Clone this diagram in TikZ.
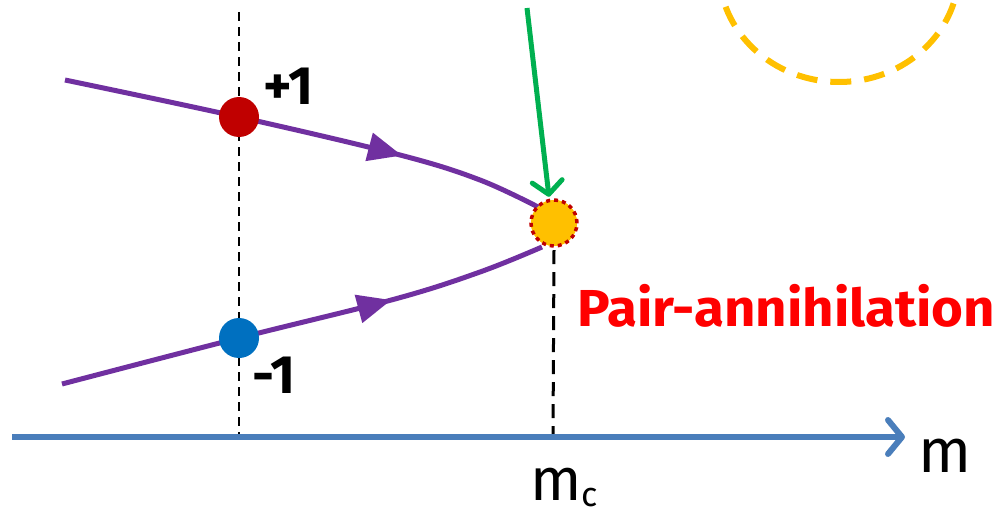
\documentclass[tikz,border=0pt]{standalone}
\usepackage{fontspec}
\setmainfont{Fira Sans}
\usetikzlibrary{arrows.meta,decorations.markings,calc}
\definecolor{axisblue}{HTML}{4A7EBB}
\definecolor{purp}{HTML}{7030A0}
\definecolor{darkred}{HTML}{C00000}
\definecolor{midblue}{HTML}{0070C0}
\definecolor{gold}{HTML}{FFC000}
\definecolor{grn}{HTML}{00B050}
\definecolor{brightred}{HTML}{FF0000}
\tikzset{
  dot/.style={circle, inner sep=0pt, minimum size=#1},
  flow/.style={purp, line width=5pt, postaction={decorate},
    decoration={markings, mark=at position #1 with {\arrow{Triangle[length=34pt,width=28pt]}}}},
  guide/.style={black, line width=2pt, dash pattern=on 9pt off 6pt},
  lbl/.style={font=\fontsize{54}{58}\selectfont\bfseries, inner sep=0pt}
}
\begin{document}
\begin{tikzpicture}[x=1pt,y=-1pt]
\useasboundingbox (0,0) rectangle (1005,519);
\clip (0,0) rectangle (1005,519);
% yellow dashed ellipse
\draw[gold, line width=6pt, dash pattern=on 21pt off 13pt] (839,-30) ellipse [x radius=120, y radius=112];
% nodes
\coordinate (axL) at (12,437);
\coordinate (axR) at (905,437);
\coordinate (gTop) at (239,12);
\coordinate (gBot) at (239,437);
\coordinate (cBot) at (553,437);
\coordinate (gr0) at (527,8);
\node[dot=46pt, fill=gold] (pa) at (554,223) {};
% guides
\draw[guide] (gTop) -- (gBot);
\draw[black, line width=3pt, dash pattern=on 14pt off 8pt] ($(pa.south)+(0,4)$) -- (cBot);
% axis
\draw[axisblue, line width=6pt, -{Straight Barb[length=14pt,width=34pt,round]}] (axL) -- (axR);
% curves
\draw[flow=0.70] plot[smooth, tension=0.6] coordinates {(65,80) (239,117) (400,155) (480,180) (540,208)};
\draw[flow=0.68] plot[smooth, tension=0.6] coordinates {(62,384) (239,338) (395,299) (480,272) (542,247)};
% circles
\node[dot=40pt, fill=darkred] (p1) at (239,117) {};
\node[dot=40pt, fill=midblue] (m1) at (239,338) {};
\node[dot=46pt, fill=gold, draw=darkred, line width=3.5pt, dash pattern=on 4pt off 4pt] (pa2) at (pa) {};
% green arrow
\draw[grn, line width=5pt, -{Straight Barb[length=13pt,width=30pt,round]}] (gr0) -- ($(pa.north)+(-5,-3)$);
% labels
\node[lbl, anchor=base west] (tp) at (263,105) {+1};
\node[lbl, anchor=base west] (tm) at (252,393) {-1};
\node[font=\fontsize{52}{56}\selectfont\bfseries, text=brightred, anchor=base west, inner sep=0pt, xscale=1.05] (txt) at (577,326) {Pair-annihilation};
\node[font=\fontsize{62}{66}\selectfont, anchor=base west, inner sep=0pt] (mlab) at (918,472) {m};
\node[font=\fontsize{60}{64}\selectfont, anchor=base west, inner sep=0pt] (mc) at (530,500) {m\raisebox{-6pt}{\fontsize{34}{38}\selectfont c}};
\end{tikzpicture}
\end{document}
